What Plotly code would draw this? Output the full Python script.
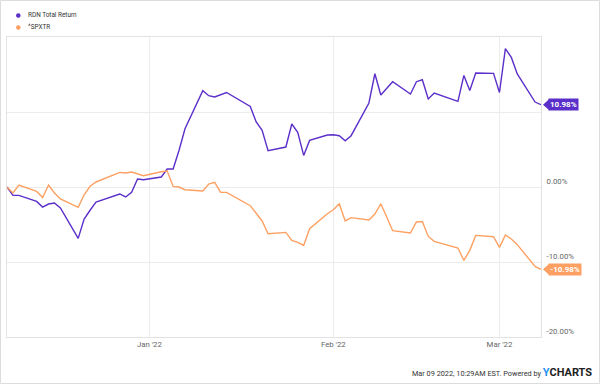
import plotly.graph_objects as go

dates = ["2021-12-08","2021-12-09","2021-12-10","2021-12-13","2021-12-14","2021-12-15","2021-12-16","2021-12-17",
         "2021-12-20","2021-12-21","2021-12-22","2021-12-23","2021-12-27","2021-12-28","2021-12-29","2021-12-30","2021-12-31",
         "2022-01-03","2022-01-04","2022-01-05","2022-01-06","2022-01-07","2022-01-10","2022-01-11","2022-01-12","2022-01-13",
         "2022-01-14","2022-01-18","2022-01-19","2022-01-20","2022-01-21","2022-01-24","2022-01-25","2022-01-26","2022-01-27",
         "2022-01-28","2022-01-31","2022-02-01","2022-02-02","2022-02-03","2022-02-04","2022-02-07","2022-02-08","2022-02-09",
         "2022-02-10","2022-02-11","2022-02-14","2022-02-15","2022-02-16","2022-02-17","2022-02-18","2022-02-22","2022-02-23",
         "2022-02-24","2022-02-25","2022-02-28","2022-03-01","2022-03-02","2022-03-03","2022-03-04","2022-03-07","2022-03-08"]

rdn_total_return = [0, -1.12, -1.12, -1.92, -2.67, -2.27, -2.13, -2.8,
                    -6.85, -4.27, -3.1, -2.0, -0.93, -1.33, -0.72, 1.07, 0.97,
                    1.33, 2.4, 2.4, 4.9, 7.77, 12.84, 12.17, 12.0, 12.3,
                    12.6, 10.75, 8.67, 7.55, 4.84, 5.33, 8.4, 7.28, 4.21,
                    6.21, 6.93, 6.97, 6.84, 6.17, 6.84, 11.2, 15.1, 12.27,
                    13.1, 14.04, 12.4, 14.04, 14.3, 11.73, 12.53, 11.41, 14.88,
                    12.88, 15.2, 15.15, 12.61, 18.44, 17.28, 15.07, 11.33, 10.98]

spxtr = [0, -0.8, 0.27, -0.59, -1.39, 0.27, -0.8, -1.6,
         -2.72, -1.03, 0.1, 0.67, 1.95, 1.87, 2.0, 1.77, 1.51,
         2.04, 2.13, 0.08, 0.0, -0.36, -0.53, 0.4, 0.61, -0.72,
         -0.72, -2.49, -3.47, -4.53, -6.23, -6.05, -7.12, -7.39, -7.79,
         -5.56, -3.56, -3.03, -2.23, -4.53, -4.09, -4.4, -3.6, -2.23,
         -4.0, -5.83, -6.13, -4.67, -4.59, -6.59, -7.25, -8.13, -9.79,
         -8.45, -6.45, -6.63, -8.05, -6.4, -6.93, -7.69, -10.59, -10.98]

series_names = ["RDN Total Return", "^SPXTR"]
series_colors = ["#5b2fc9", "#fda062"]

x_tick_vals = ["2022-01-01", "2022-02-01", "2022-03-01"]
x_tick_text = ["Jan '22", "Feb '22", "Mar '22"]
y_tick_vals = [-20, -10, 0, 10]
y_tick_text = ["-20.00%", "-10.00%", "0.00%", "10.00%"]

W, H = 600, 384
ML, MR, MT, MB = 7, 59, 37, 47
PW, PH = W - ML - MR, H - MT - MB

def px_x(p):
    return (p - ML) / PW

def px_y(p):
    return (H - MB - p) / PH

fig = go.Figure()
for name, vals, col in zip(series_names, [rdn_total_return, spxtr], series_colors):
    fig.add_trace(go.Scatter(x=dates, y=vals, mode="lines", name=name,
                             line=dict(color=col, width=1.4), showlegend=False))

shapes = []
annotations = []

# outer frame
shapes.append(dict(type="rect", xref="paper", yref="paper",
                   x0=px_x(0.5), x1=px_x(599.5), y0=px_y(383.5), y1=px_y(0.5),
                   line=dict(color="#dcdcdc", width=1), layer="below"))

# manual legend
for i, (name, col) in enumerate(zip(series_names, series_colors)):
    yc = 15.5 + 12 * i
    shapes.append(dict(type="circle", xref="paper", yref="paper",
                       xsizemode="pixel", ysizemode="pixel",
                       xanchor=px_x(18.3), yanchor=px_y(yc),
                       x0=-2.3, x1=2.3, y0=-2.3, y1=2.3,
                       fillcolor=col, line=dict(width=0)))
    annotations.append(dict(xref="paper", yref="paper", x=px_x(25.5), y=px_y(yc),
                            xanchor="left", yanchor="middle", showarrow=False,
                            text=name, font=dict(family="Roboto", size=6.4, color="#333333")))

# end value tags
for vals, col in zip([rdn_total_return, spxtr], series_colors):
    v = vals[-1]
    shapes.append(dict(type="path", xref="paper", yref="y",
                       xsizemode="pixel", ysizemode="pixel",
                       xanchor=1, yanchor=v,
                       path="M 2,0 L 8,5.3 L 8,-5.3 Z",
                       fillcolor=col, line=dict(width=0)))
    annotations.append(dict(xref="paper", yref="y", x=1, y=v, xshift=7,
                            xanchor="left", yanchor="middle", showarrow=False,
                            text="<b>%.2f%%</b>" % v, bgcolor=col, borderpad=1,
                            font=dict(family="Roboto", size=8, color="white")))

# footer
annotations.append(dict(xref="paper", yref="paper", x=px_x(594), y=px_y(372),
                        xanchor="right", yanchor="middle", showarrow=False,
                        text="<span style='font-size:7.3px;color:#333333'>Mar 09 2022, 10:29AM EST. Powered by </span>"
                             "<b><span style='color:#1f8ff0'>Y</span><span style='color:#222222'>CHARTS</span></b>",
                        font=dict(family="Roboto", size=11, color="#222222")))

fig.update_layout(
    width=W, height=H,
    margin=dict(l=ML, r=MR, t=MT, b=MB, pad=0),
    paper_bgcolor="white", plot_bgcolor="white",
    showlegend=False,
    shapes=shapes, annotations=annotations,
    xaxis=dict(range=["2021-12-08", "2022-03-08"], tickvals=x_tick_vals, ticktext=x_tick_text,
               showgrid=True, gridcolor="#ececec", gridwidth=1,
               showline=True, linecolor="#e2e2e2", mirror=True, zeroline=False,
               ticks="", tickfont=dict(family="Roboto", size=7.8, color="#666666")),
    yaxis=dict(range=[-20, 20], side="right", tickvals=y_tick_vals, ticktext=y_tick_text,
               showgrid=True, gridcolor="#ececec", gridwidth=1,
               showline=True, linecolor="#e2e2e2", mirror=True, zeroline=False,
               ticks="", ticklabelposition="outside top", ticklabelstandoff=3,
               tickfont=dict(family="Roboto", size=7.8, color="#666666")),
)

fig.write_html("out.html", config={"displayModeBar": False},
               post_script="document.body.style.margin='0';document.body.style.padding='0';")
